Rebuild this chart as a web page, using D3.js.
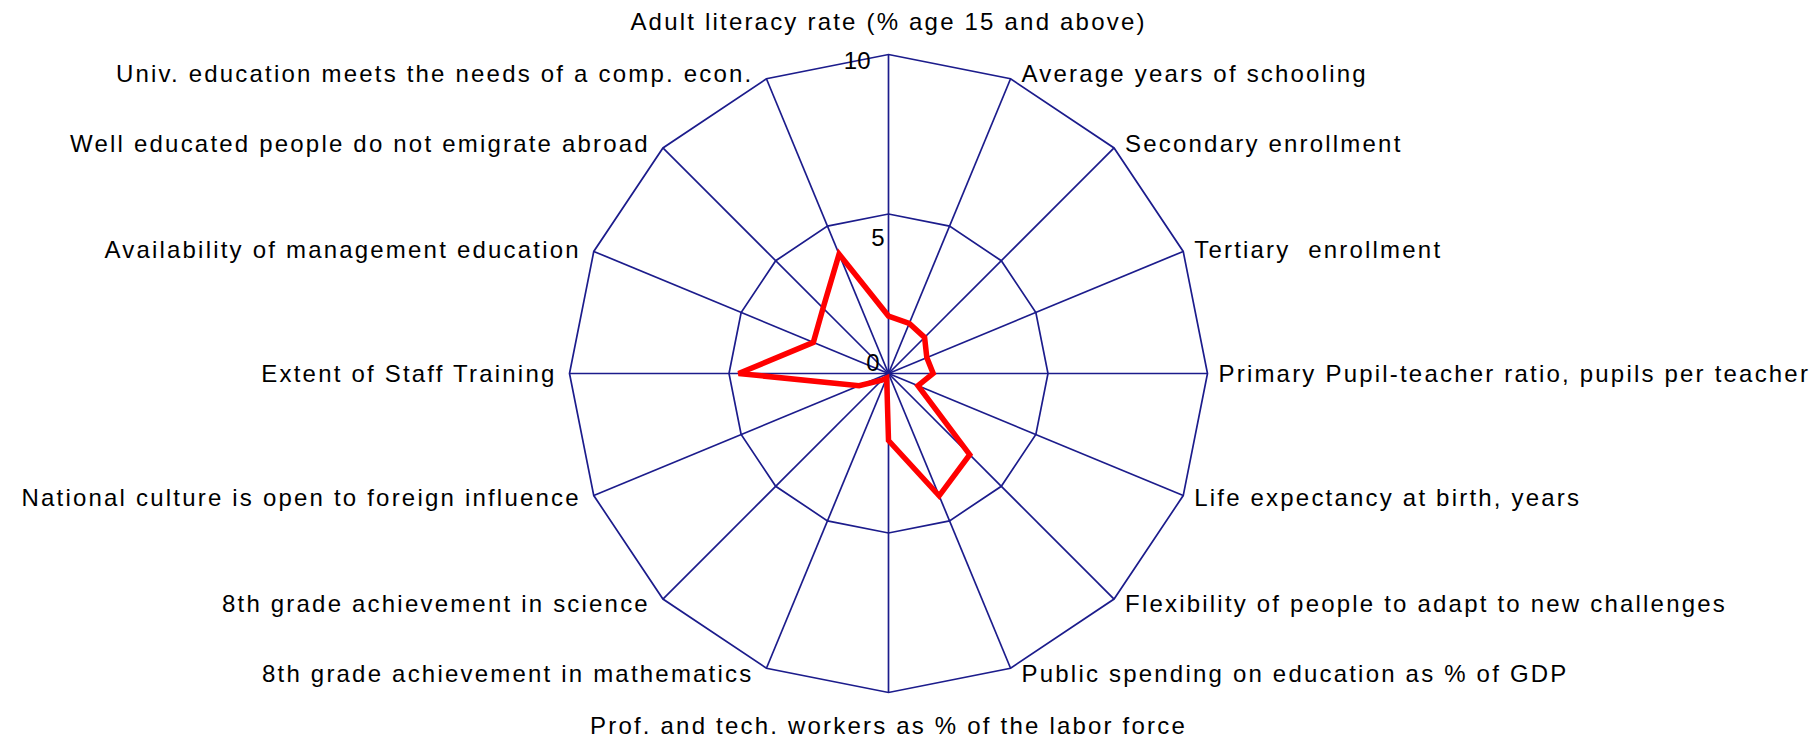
<!DOCTYPE html>
<meta charset="utf-8">
<head>
  <title>Education radar</title>
</head>

<style>
body { margin: 0; background: white; }
.grid { fill: none; stroke: #1c1c8c; stroke-width: 1.7; }
.axis { stroke: #1c1c8c; stroke-width: 1.7; }
.series { fill: none; stroke: #ff0000; stroke-width: 5.5; stroke-linejoin: miter; }
text {
  font-family: "Liberation Sans", Arial, sans-serif;
  fill: black;
  font-size: 24px;
  white-space: pre;
}
.label { letter-spacing: 2.2px; }
</style>

<body>
  <svg width="1819" height="738"></svg>

  <script src="https://cdnjs.cloudflare.com/ajax/libs/d3/7.8.5/d3.min.js"></script>
  <script>
var categories = [
  "Adult literacy rate (% age 15 and above)",
  "Average years of schooling",
  "Secondary enrollment",
  "Tertiary  enrollment",
  "Primary Pupil-teacher ratio, pupils per teacher",
  "Life expectancy at birth, years",
  "Flexibility of people to adapt to new challenges",
  "Public spending on education as % of GDP",
  "Prof. and tech. workers as % of the labor force",
  "8th grade achievement in mathematics",
  "8th grade achievement in science",
  "National culture is open to foreign influence",
  "Extent of Staff Training",
  "Availability of management education",
  "Well educated people do not emigrate abroad",
  "Univ. education meets the needs of a comp. econ."
];

var values = [1.8, 1.7, 1.6, 1.3, 1.4, 1.0, 3.6, 4.15, 2.1, 0.15, 0.3, 1.0, 4.7, 2.55, 2.9, 4.05];

var ticks = [0, 5, 10];

var cx = 888.5, cy = 373.5, R = 319;
var n = categories.length;

var r = d3.scaleLinear().domain([0, 10]).range([0, R]);
var angle = d3.scaleLinear().domain([0, n]).range([0, 2 * Math.PI]);

function pt(i, v) {
  var a = angle(i);
  return [cx + r(v) * Math.sin(a), cy - r(v) * Math.cos(a)];
}

var svg = d3.select('svg');

// rings
svg.selectAll('.grid')
  .data(ticks.filter(function(t) { return t > 0; }))
  .enter()
  .append('polygon')
  .attr('class', 'grid')
  .attr('points', function(t) {
    return d3.range(n).map(function(i) { return pt(i, t); }).join(' ');
  });

// spokes
svg.selectAll('.axis')
  .data(categories)
  .enter()
  .append('line')
  .attr('class', 'axis')
  .attr('x1', cx)
  .attr('y1', cy)
  .attr('x2', function(d, i) { return pt(i, 10)[0]; })
  .attr('y2', function(d, i) { return pt(i, 10)[1]; });

// data line
var line = d3.lineRadial()
  .angle(function(d, i) { return angle(i); })
  .radius(function(d) { return r(d); })
  .curve(d3.curveLinearClosed);

svg.append('path')
  .attr('class', 'series')
  .attr('transform', 'translate(' + [cx, cy] + ')')
  .attr('d', line(values));

// category labels
svg.selectAll('.label')
  .data(categories)
  .enter()
  .append('text')
  .attr('class', 'label')
  .attr('x', function(d, i) {
    var p = pt(i, 10);
    if (i === 0 || i === n / 2) return p[0];
    return i < n / 2 ? p[0] + 11 : p[0] - 13;
  })
  .attr('y', function(d, i) {
    var p = pt(i, 10);
    if (i === 0) return p[1] - 33;
    if (i === n / 2) return p[1] + 33;
    return p[1] - Math.cos(angle(i)) * 6;
  })
  .attr('dominant-baseline', 'central')
  .attr('text-anchor', function(d, i) {
    if (i === 0 || i === n / 2) return 'middle';
    return i < n / 2 ? 'start' : 'end';
  })
  .text(function(d) { return d; });

// tick labels
var tickOffset = { 0: [-9, -11], 5: [-4, 23], 10: [-18, 6] };
svg.selectAll('.tick')
  .data(ticks)
  .enter()
  .append('text')
  .attr('class', 'tick')
  .attr('x', function(t) { return cx + tickOffset[t][0]; })
  .attr('y', function(t) { return cy - r(t) + tickOffset[t][1]; })
  .attr('text-anchor', 'end')
  .attr('dominant-baseline', 'central')
  .text(function(t) { return t; });
  </script>
</body>
</html>
